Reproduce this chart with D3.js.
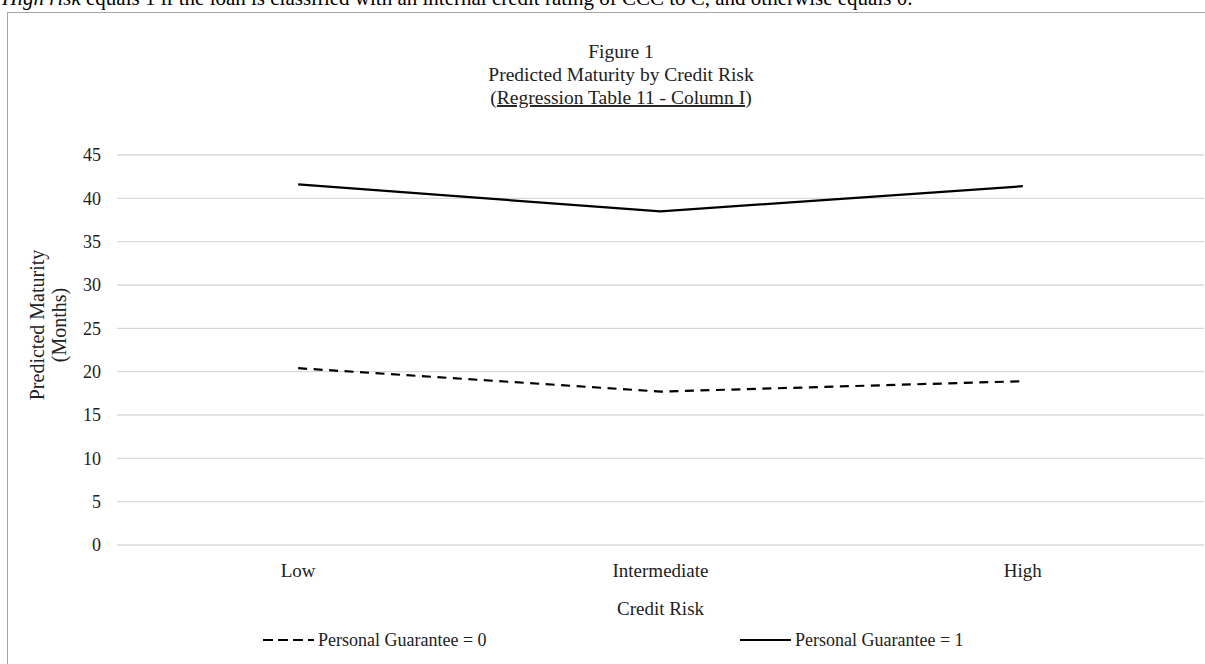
<!DOCTYPE html>
<html>
<head>
<meta charset="utf-8">
<script src="https://cdnjs.cloudflare.com/ajax/libs/d3/7.8.5/d3.min.js"></script>
<style>
  body { margin: 0; background: #fff; }
  svg { font-family: "Liberation Serif", "Times New Roman", serif; }
</style>
</head>
<body>
<script>
// data
var categories = ["Low", "Intermediate", "High"];
var guarantee0 = [20.4, 17.7, 18.9];
var guarantee1 = [41.6, 38.5, 41.4];
var yTicks = [0, 5, 10, 15, 20, 25, 30, 35, 40, 45];
var seriesNames = ["Personal Guarantee = 0", "Personal Guarantee = 1"];
var titleLines = ["Figure 1", "Predicted Maturity by Credit Risk", "(Regression Table 11 - Column I)"];

var width = 1205, height = 664;
var margin = { left: 117, right: 1, top: 155, bottom: 119 };
// the chart box runs past the right edge of the picture, title/legend are centred on it
var chartCenter = 621;

var svg = d3.select("body").append("svg")
    .attr("width", width).attr("height", height);

// caption line cut off at top of the page
var cap = svg.append("text").attr("x", 2).attr("y", 5).style("font-size", "21px");
cap.append("tspan").style("font-style", "italic").text("High risk");
cap.append("tspan").text(" equals 1 if the loan is classified with an internal credit rating of CCC to C, and otherwise equals 0.");

// chart frame
svg.append("rect")
    .attr("x", 7.5).attr("y", 12.5)
    .attr("width", width).attr("height", height)
    .attr("fill", "none").attr("stroke", "#a6a6a6").attr("stroke-width", 1);

var x = d3.scaleBand().domain(categories).range([margin.left, width - margin.right]);
var y = d3.scaleLinear().domain([0, 45]).range([height - margin.bottom, margin.top]);

// gridlines
svg.append("g").selectAll("line").data(yTicks).enter().append("line")
    .attr("x1", margin.left).attr("x2", width - margin.right)
    .attr("y1", d => y(d)).attr("y2", d => y(d))
    .attr("stroke", "#d9d9d9").attr("stroke-width", 1.3);

// axes (no domain line, no ticks)
var yAxis = svg.append("g")
    .attr("transform", "translate(" + (margin.left - 16) + ",0)")
    .call(d3.axisLeft(y).tickValues(yTicks).tickSize(0).tickPadding(0));
yAxis.select(".domain").remove();
yAxis.selectAll("text").style("font-size", "18px").attr("fill", "#222")
    .attr("font-family", "Liberation Serif");

var xAxis = svg.append("g")
    .attr("transform", "translate(0," + (height - margin.bottom) + ")")
    .call(d3.axisBottom(x).tickSize(0).tickPadding(19));
xAxis.select(".domain").remove();
xAxis.selectAll("text").style("font-size", "19px").attr("fill", "#222")
    .attr("font-family", "Liberation Serif");

// lines
var line = d3.line()
    .x((d, i) => x(categories[i]) + x.bandwidth() / 2)
    .y(d => y(d));

svg.append("path").datum(guarantee0)
    .attr("d", line).attr("fill", "none")
    .attr("stroke", "#000").attr("stroke-width", 2.2)
    .attr("stroke-dasharray", "9,6.5");

svg.append("path").datum(guarantee1)
    .attr("d", line).attr("fill", "none")
    .attr("stroke", "#000").attr("stroke-width", 2.2);

// title
svg.append("g").selectAll("text").data(titleLines).enter().append("text")
    .attr("x", chartCenter).attr("y", (d, i) => 58 + i * 23)
    .attr("text-anchor", "middle").style("font-size", "19.5px").attr("fill", "#222")
    .each(function(d, i) {
        var t = d3.select(this);
        if (i == 2) {
            t.append("tspan").text("(");
            t.append("tspan").style("text-decoration", "underline").text("Regression Table 11 - Column I");
            t.append("tspan").text(")");
        } else {
            t.text(d);
        }
    });

// axis titles
var cx = margin.left + (width - margin.right - margin.left) / 2;
svg.append("text").attr("x", cx).attr("y", 615)
    .attr("text-anchor", "middle").style("font-size", "19px").attr("fill", "#222")
    .text("Credit Risk");

var yl = svg.append("text")
    .attr("transform", "translate(44,325) rotate(-90)")
    .attr("text-anchor", "middle").style("font-size", "20px").attr("fill", "#222");
yl.append("tspan").attr("x", 0).attr("dy", 0).text("Predicted Maturity");
yl.append("tspan").attr("x", 0).attr("dy", 22).text("(Months)");

// legend
var legend = svg.append("g").selectAll("g").data(seriesNames).enter().append("g")
    .attr("transform", (d, i) => "translate(" + (i == 0 ? 263 : 740) + ",640)");
legend.append("line")
    .attr("x1", 0).attr("x2", 51).attr("y1", 0).attr("y2", 0)
    .attr("stroke", "#000").attr("stroke-width", 2.2)
    .attr("stroke-dasharray", (d, i) => i == 0 ? "10,5" : null);
legend.append("text")
    .attr("x", 55).attr("y", 6).style("font-size", "18px").attr("fill", "#222")
    .text(d => d);
</script>
</body>
</html>
